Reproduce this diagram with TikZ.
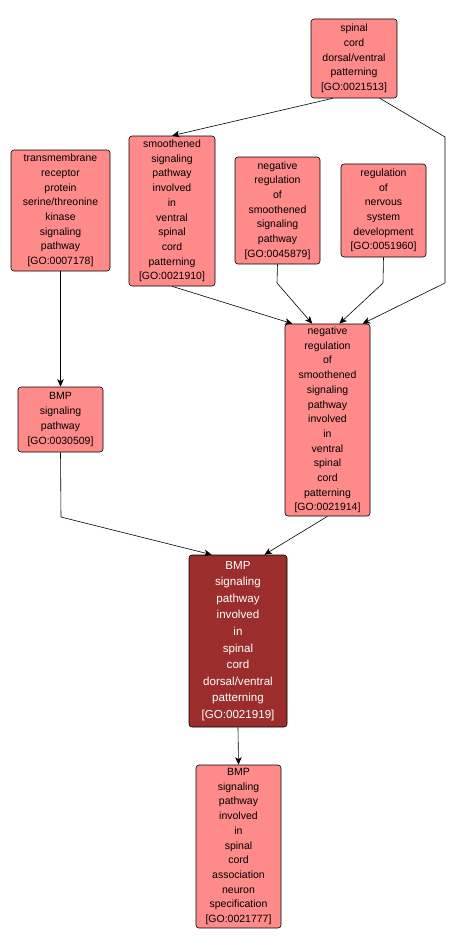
\documentclass[tikz,border=0pt]{standalone}
\usepackage{fontspec}
\setmainfont{Liberation Sans}
\usetikzlibrary{arrows.meta,positioning}
\definecolor{golight}{HTML}{FF8A8A}
\definecolor{godark}{HTML}{9B2D2D}
\begin{document}
\begin{tikzpicture}[x=1pt,y=-1pt]
\tikzset{
  gonode/.style={rectangle,rounded corners=3pt,draw=black,line width=0.6pt,fill=golight,align=center,inner sep=0pt,font=\fontsize{10.5}{14.7}\selectfont},
  goterm/.style={gonode,fill=godark,text=white},
  goedge/.style={draw=black,line width=0.6pt,-{Stealth[length=7.5pt,width=6.5pt,inset=2pt]}}
}
\useasboundingbox (0,0) rectangle (456,950);
\node[gonode,minimum width=86pt,minimum height=79pt] (n_A) at (354,58.5) {spinal\\cord\\dorsal/ventral\\patterning\\{[GO:0021513]}};
\node[gonode,minimum width=86pt,minimum height=150pt] (n_B) at (172,211) {smoothened\\signaling\\pathway\\involved\\in\\ventral\\spinal\\cord\\patterning\\{[GO:0021910]}};
\node[gonode,minimum width=85pt,minimum height=107pt] (n_C) at (277.5,210.5) {negative\\regulation\\of\\smoothened\\signaling\\pathway\\{[GO:0045879]}};
\node[gonode,minimum width=85pt,minimum height=93pt] (n_D) at (383.5,210.5) {regulation\\of\\nervous\\system\\development\\{[GO:0051960]}};
\node[gonode,minimum width=99pt,minimum height=121pt] (n_E) at (60.5,210.5) {transmembrane\\receptor\\protein\\serine/threonine\\kinase\\signaling\\pathway\\{[GO:0007178]}};
\node[gonode,minimum width=85pt,minimum height=65pt] (n_F) at (60.5,419.5) {BMP\\signaling\\pathway\\{[GO:0030509]}};
\node[gonode,minimum width=85pt,minimum height=192pt] (n_G) at (327.5,420) {negative\\regulation\\of\\smoothened\\signaling\\pathway\\involved\\in\\ventral\\spinal\\cord\\patterning\\{[GO:0021914]}};
\node[goterm,minimum width=98pt,minimum height=172pt,font=\fontsize{11.6}{16.6}\selectfont] (n_H) at (238,641) {BMP\\signaling\\pathway\\involved\\in\\spinal\\cord\\dorsal/ventral\\patterning\\{[GO:0021919]}};
\node[gonode,minimum width=85pt,minimum height=163pt] (n_I) at (238.5,846.5) {BMP\\signaling\\pathway\\involved\\in\\spinal\\cord\\association\\neuron\\specification\\{[GO:0021777]}};
% bends
\coordinate (b_AG1) at (445,137);
\coordinate (b_AG2) at (445,283);
\coordinate (b_CG) at (277,283);
\coordinate (b_DG) at (383,283);
\coordinate (b_FH) at (61,517);
\draw[goedge] (n_A.242) -- (n_B.north);
\draw[goedge] (n_A.303) -- (b_AG1) -- (b_AG2) -- (n_G.70);
\draw[goedge] (n_B.south) -- (n_G.110);
\draw[goedge] (n_C.south) -- (b_CG) -- (n_G.99);
\draw[goedge] (n_D.south) -- (b_DG) -- (n_G.83);
\draw[goedge] (n_E.south) -- (n_F.north);
\draw[goedge] (n_F.south) -- (b_FH) -- (n_H.107);
\draw[goedge] (n_G.south) -- (n_H.73);
\draw[goedge] (n_H.south) -- (n_I.north);
\end{tikzpicture}
\end{document}
